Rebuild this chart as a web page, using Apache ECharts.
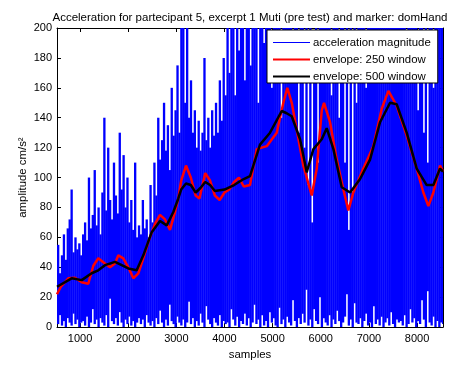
<!DOCTYPE html>
<html>
<head>
<meta charset="utf-8">
<script src="https://cdn.jsdelivr.net/npm/echarts@6/dist/echarts.min.js"></script>
<style>
  html, body { margin: 0; padding: 0; background: #fff; }
  #chart { width: 451px; height: 365px; }
</style>
</head>
<body>
<div id="chart"></div>
<script>
// Raw acceleration magnitude, summarised per block of 40 samples:
// the largest and the smallest value inside each block.
const sampleStart = 520;
const sampleStep = 40;

const accelHigh = [
  55,36,48,62,45,66,72,92,50,60,52,56,48,
  62,70,58,100,66,75,105,68,80,62,90,140,78,120,85,72,110,88,76,130,92,115,80,100,70,85,65,110,60,
  68,62,85,66,72,60,95,70,110,88,140,112,125,150,118,135,105,160,128,145,175,130,200,
  200,150,200,140,165,130,145,120,138,118,130,180,125,140,120,145,128,150,130,165,138,180,155,
  200,170,200,200,155,200,185,200,200,165,
  200,200,175,200,200,200,150,200,200,190,
  200,200,200,160,200,200,200,200,140,200,
  200,200,200,200,170,200,200,130,200,200,
  120,200,95,200,70,180,200,110,200,200,
  200,200,200,200,155,200,200,200,140,200,
  200,110,200,65,200,90,200,150,200,200,
  200,200,160,200,200,200,200,200,200,200,
  200,200,200,200,200,200,200,200,200,200,
  200,200,200,175,200,200,200,200,200,145,
  200,200,130,200,110,200,200,160,200,200,
  200,200,200
];

const accelLow = [
  2,8,1,4,0,6,3,1,9,2,5,0,3,
  4,1,7,0,3,12,2,5,0,6,3,1,8,0,19,4,2,6,1,10,3,0,5,2,7,1,4,0,3,6,
  2,5,0,8,3,1,4,0,6,2,11,3,0,5,1,15,4,2,0,7,3,1,
  5,0,3,17,2,6,0,4,1,9,3,0,14,5,2,0,6,3,1,8,0,4,2,
  3,0,12,5,1,7,0,4,2,9,
  1,6,0,3,15,2,5,0,8,1,
  4,0,10,3,6,1,0,13,2,5,
  0,7,3,1,18,4,0,6,2,9,
  3,25,1,5,0,12,4,2,20,0,
  6,3,1,8,0,5,2,11,4,0,
  3,7,22,1,5,0,16,3,2,6,
  0,4,9,1,3,0,14,2,5,1,
  7,0,3,6,1,10,2,0,5,3,
  4,1,8,0,2,12,3,6,0,4,
  2,18,5,0,24,3,1,7,0,4,
  0,3,2
];

// Moving envelopes: [sample, amplitude]
const envelope250 = [
  [520,22],[600,27],[755,32.6],[894,33],[1033,30],[1170,29],[1275,41],[1378,46],
  [1517,42.5],[1621,40],[1725,42.5],[1794,48],[1898,46],[2002,40],[2106,32.6],
  [2210,36],[2313,46],[2417,57],[2556,69],[2660,75],[2764,72],[2868,65],[2972,77],
  [3040,86],[3100,98],[3200,108],[3300,100],[3400,88],[3480,86],[3600,103],
  [3700,98],[3800,88],[3900,85],[4000,90],[4100,92],[4200,97],[4300,100],[4400,94],
  [4530,95],[4670,119],[4878,121],[5085,130],[5223,150],[5306,160],[5397,150],
  [5501,132],[5638,108],[5813,88],[5917,106],[6021,145],[6068,150],[6193,137],
  [6332,112],[6470,92],[6574,78],[6677,90],[6885,106],[7093,121],[7267,146],
  [7405,158],[7578,148],[7786,128],[7994,106],[8132,90],[8236,81],[8340,90],
  [8479,108],[8540,104]
];

const envelope500 = [
  [520,27],[825,32.6],[1033,31.4],[1240,36],[1378,38],[1517,41.4],[1725,43.6],
  [1864,41.4],[2002,39.2],[2176,38],[2313,48],[2488,63.5],[2660,71],[2799,68],
  [2937,77],[3040,86],[3100,92],[3200,96],[3300,95],[3400,90],[3500,93],[3600,97],
  [3700,95],[3800,91],[4000,92],[4200,95],[4400,99],[4530,101],[4738,122],
  [4946,130],[5189,144.5],[5292,143],[5397,141],[5570,125.6],[5708,103.5],
  [5847,119],[6021,125.6],[6124,133],[6263,119],[6436,93.5],[6609,90],[6817,99],
  [7024,112],[7232,137],[7440,150],[7578,149],[7786,130],[7994,106],[8201,95],
  [8340,95],[8479,106],[8540,104]
];

const xTicks = [1000,2000,3000,4000,5000,6000,7000,8000];
const yTicks = [0,20,40,60,80,100,120,140,160,180,200];

// One record per block: [first sample, next block start, low, high]
const accelBlocks = [];
const n = Math.min(accelHigh.length, accelLow.length);
for (let i = 0; i < n; i++) {
  const s = sampleStart + i * sampleStep;
  accelBlocks.push([s, s + sampleStep, accelLow[i], accelHigh[i]]);
}

const FONT = '"Liberation Sans", Arial, Helvetica, sans-serif';
const X_MIN = 520, X_MAX = 8540;

const chart = echarts.init(document.getElementById('chart'), null, { renderer: 'canvas' });

const baseX = {
  type: 'value', min: X_MIN, max: X_MAX,
  axisLine: { show: true, onZero: false, lineStyle: { color: '#000', width: 1 } },
  axisTick: { show: true, inside: true, length: 4, customValues: xTicks, lineStyle: { color: '#000' } },
  splitLine: { show: false }
};
const baseY = {
  type: 'value', min: 0, max: 200,
  axisLine: { show: true, onZero: false, lineStyle: { color: '#000', width: 1 } },
  axisTick: { show: true, inside: true, length: 4, customValues: yTicks, lineStyle: { color: '#000' } },
  splitLine: { show: false }
};

// Each block is filled as a vertical band from its minimum to its maximum.
function renderBlock(params, api) {
  const top = api.coord([api.value(0), api.value(3)]);
  const bottom = api.coord([api.value(1), api.value(2)]);
  const cs = params.coordSys;
  const shape = echarts.graphic.clipRectByRect(
    { x: top[0], y: top[1], width: bottom[0] - top[0] + 0.4, height: bottom[1] - top[1] },
    { x: cs.x, y: cs.y, width: cs.width, height: cs.height }
  );
  return shape && { type: 'rect', shape: shape, style: { fill: '#0000ff' } };
}

chart.setOption({
  animation: false,
  backgroundColor: '#fff',
  textStyle: { fontFamily: FONT },
  title: {
    text: 'Acceleration for partecipant 5, excerpt 1 Muti (pre test) and marker: domHand',
    left: 245, top: 7, textAlign: 'center',
    textStyle: { fontFamily: FONT, fontSize: 11.5, fontWeight: 'normal', color: '#000' }
  },
  grid: { left: 57, top: 28, right: 8, bottom: 36, containLabel: false },
  legend: {
    orient: 'vertical',
    left: 267, top: 30,
    padding: [7, 7, 1, 6],
    itemWidth: 37, itemHeight: 14, itemGap: 6,
    backgroundColor: '#fff',
    borderColor: '#000', borderWidth: 1, borderRadius: 0,
    textStyle: { fontFamily: FONT, fontSize: 11.4, color: '#000', padding: [0, 0, 0, -2] },
    data: [
      { name: 'acceleration magnitude', icon: 'path://M0,0h37v1h-37z' },
      { name: 'envelope: 250 window', icon: 'path://M0,0h37v2h-37z' },
      { name: 'envelope: 500 window', icon: 'path://M0,0h37v2h-37z' }
    ]
  },
  xAxis: [
    Object.assign({}, baseX, {
      position: 'bottom',
      name: 'samples', nameLocation: 'middle', nameGap: 19,
      nameTextStyle: { fontFamily: FONT, fontSize: 11.4, color: '#000' },
      axisLabel: {
        show: true, customValues: xTicks, margin: 6,
        fontFamily: FONT, fontSize: 11, color: '#000',
        formatter: v => String(v)
      }
    }),
    Object.assign({}, baseX, { position: 'top', axisLabel: { show: false } })
  ],
  yAxis: [
    Object.assign({}, baseY, {
      position: 'left',
      name: 'amplitude cm/s²', nameLocation: 'middle', nameGap: 29, nameRotate: 90,
      nameMoveOverlap: false,
      nameTextStyle: { fontFamily: FONT, fontSize: 11.4, color: '#000' },
      axisLabel: {
        show: true, customValues: yTicks, margin: 5,
        fontFamily: FONT, fontSize: 11, color: '#000',
        formatter: v => String(v)
      }
    }),
    Object.assign({}, baseY, { position: 'right', axisLabel: { show: false } })
  ],
  series: [
    {
      name: 'acceleration magnitude', type: 'custom', data: accelBlocks,
      encode: { x: [0, 1], y: [2, 3] },
      renderItem: renderBlock,
      itemStyle: { color: '#0000ff' },
      clip: true, z: 1
    },
    {
      name: 'envelope: 250 window', type: 'line', data: envelope250,
      symbol: 'none', showSymbol: false, smooth: false,
      lineStyle: { color: '#ff0000', width: 2.5 }, itemStyle: { color: '#ff0000' },
      clip: true, z: 2
    },
    {
      name: 'envelope: 500 window', type: 'line', data: envelope500,
      symbol: 'none', showSymbol: false, smooth: false,
      lineStyle: { color: '#000000', width: 2.5 }, itemStyle: { color: '#000000' },
      clip: true, z: 3
    }
  ]
});
</script>
</body>
</html>
